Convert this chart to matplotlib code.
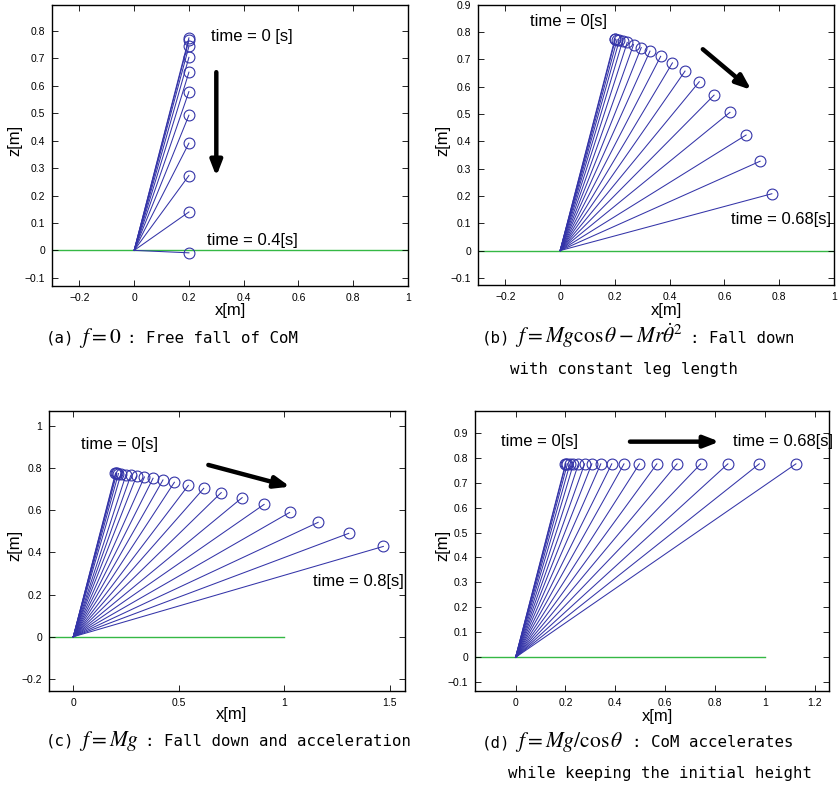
import matplotlib
matplotlib.use("Agg")
import matplotlib.pyplot as plt

plt.rcParams['mathtext.fontset'] = 'stix'

W, H = 838, 787

# ---------------- data ----------------
# (a) free fall
a_x = [0.2] * 11
a_z = [0.775, 0.767, 0.744, 0.704, 0.650, 0.579, 0.493, 0.391, 0.273, 0.140, -0.009]

# (b) constant leg length
b_x = [0.2, 0.202, 0.208, 0.216, 0.228, 0.245, 0.268, 0.296, 0.328, 0.367,
       0.41, 0.456, 0.508, 0.562, 0.62, 0.679, 0.73, 0.773]
b_z = [0.775, 0.774, 0.7725, 0.770, 0.767, 0.762, 0.754, 0.743, 0.730, 0.711,
       0.687, 0.657, 0.618, 0.569, 0.506, 0.423, 0.327, 0.208]

# (c) f = Mg
c_x = [0.2, 0.202, 0.206, 0.214, 0.226, 0.25, 0.273, 0.3, 0.337, 0.378, 0.425,
       0.479, 0.545, 0.618, 0.701, 0.8, 0.904, 1.025, 1.16, 1.305, 1.469]
c_z = [0.775, 0.775, 0.774, 0.773, 0.771, 0.768, 0.765, 0.762, 0.757, 0.751, 0.743,
       0.732, 0.717, 0.703, 0.683, 0.659, 0.627, 0.589, 0.542, 0.490, 0.428]

# (d) f = Mg / cos(theta)
d_x = [0.2, 0.202, 0.208, 0.218, 0.232, 0.252, 0.277, 0.306, 0.342, 0.386,
       0.435, 0.497, 0.567, 0.648, 0.743, 0.852, 0.978, 1.125]
d_z = [0.775] * 18

ground_x = [-1.0, 1.0]
ground_z = [0.0, 0.0]

# ---------------- styling ----------------
BLUE = '#3434a8'
GREEN = '#35b845'
TICKFONT = 'Liberation Sans'


def px_axes(fig, l, r, t, b):
    return fig.add_axes([l / W, 1 - b / H, (r - l) / W, (b - t) / H])


def draw_panel(ax, xs, zs, xlim, ylim, xticks, yticks, xtl, ytl):
    ax.plot(ground_x, ground_z, color=GREEN, lw=1.0, zorder=1)
    for x, z in zip(xs, zs):
        ax.plot([0, x], [0, z], color=BLUE, lw=0.75, zorder=2)
    ax.plot(xs, zs, linestyle='none', marker='o', markersize=7.8,
            markerfacecolor='none', markeredgecolor=BLUE, markeredgewidth=0.8, zorder=3)
    ax.set_xlim(*xlim)
    ax.set_ylim(*ylim)
    ax.set_xticks(xticks)
    ax.set_yticks(yticks)
    ax.set_xticklabels(xtl)
    ax.set_yticklabels(ytl)
    ax.tick_params(direction='in', length=4, width=0.6, top=True, right=True,
                   labelsize=7.5, pad=5)
    for lab in ax.get_xticklabels() + ax.get_yticklabels():
        lab.set_fontfamily(TICKFONT)
    for s in ax.spines.values():
        s.set_linewidth(1.0)


def arrow(ax, start, end):
    ax.annotate('', xy=end, xytext=start,
                arrowprops=dict(arrowstyle='-|>,head_length=0.9,head_width=0.35',
                                lw=3.2, color='black', shrinkA=0, shrinkB=0))


def ttext(ax, x, y, s):
    ax.text(x, y, s, fontsize=12, family=TICKFONT, va='center', ha='left')


def ftext(x, y, s, **kw):
    fig.text(x / W, 1 - y / H, s, **kw)


def lab(v):
    s = ('%g' % v)
    return s.replace('-', '\u2212')


MONO = dict(fontsize=11.3, family='DejaVu Sans Mono', ha='left', va='baseline')
MATH = dict(fontsize=15.5, ha='left', va='baseline')


def caption(y, pieces):
    # pieces: (x_px, text, is_math)
    for x, s, m in pieces:
        ftext(x, y, s, **(MATH if m else MONO))


fig = plt.figure(figsize=(W / 100, H / 100), dpi=100)

# (a)
axa = px_axes(fig, 52, 408, 5, 286)
xt = [-0.2, 0, 0.2, 0.4, 0.6, 0.8, 1]
yt = [-0.1, 0, 0.1, 0.2, 0.3, 0.4, 0.5, 0.6, 0.7, 0.8]
draw_panel(axa, a_x, a_z, (-0.3, 1.0), (-0.13, 0.895), xt, yt,
           [lab(v) for v in xt], [lab(v) for v in yt])
ttext(axa, 0.28, 0.78, 'time = 0 [s]')
ttext(axa, 0.265, 0.035, 'time = 0.4[s]')
arrow(axa, (0.30, 0.65), (0.30, 0.27))

# (b)
axb = px_axes(fig, 478, 834, 4.7, 285)
yt = [-0.1, 0, 0.1, 0.2, 0.3, 0.4, 0.5, 0.6, 0.7, 0.8, 0.9]
draw_panel(axb, b_x, b_z, (-0.3, 1.0), (-0.126, 0.9), xt, yt,
           [lab(v) for v in xt], [lab(v) for v in yt])
ttext(axb, -0.11, 0.838, 'time = 0[s]')
ttext(axb, 0.623, 0.112, 'time = 0.68[s]')
arrow(axb, (0.521, 0.737), (0.698, 0.588))

# (c)
axc = px_axes(fig, 49, 405.3, 410.7, 691)
xt = [0, 0.5, 1, 1.5]
yt = [-0.2, 0, 0.2, 0.4, 0.6, 0.8, 1]
draw_panel(axc, c_x, c_z, (-0.115, 1.573), (-0.257, 1.071), xt, yt,
           [lab(v) for v in xt], [lab(v) for v in yt])
ttext(axc, 0.036, 0.909, 'time = 0[s]')
ttext(axc, 1.135, 0.261, 'time = 0.8[s]')
arrow(axc, (0.640, 0.814), (1.027, 0.711))

# (d)
axd = px_axes(fig, 475, 829.3, 410.7, 691)
xt = [0, 0.2, 0.4, 0.6, 0.8, 1, 1.2]
yt = [-0.1, 0, 0.1, 0.2, 0.3, 0.4, 0.5, 0.6, 0.7, 0.8, 0.9]
draw_panel(axd, d_x, d_z, (-0.163, 1.259), (-0.135, 0.988), xt, yt,
           [lab(v) for v in xt], [lab(v) for v in yt])
ttext(axd, -0.059, 0.864, 'time = 0[s]')
ttext(axd, 0.874, 0.864, 'time = 0.68[s]')
arrow(axd, (0.459, 0.864), (0.818, 0.864))

# axis labels
LBL = dict(fontsize=12, family=TICKFONT, ha='center', va='center')
for (x, y) in [(230, 311), (666, 311), (231, 715), (657, 716)]:
    ftext(x, y, 'x[m]', **LBL)
for (x, y) in [(15, 140), (443, 140), (15, 545), (443, 545)]:
    ftext(x, y, 'z[m]', rotation=90, **LBL)

# captions
caption(343, [(46, '(a)', False), (79, r'$f=0$', True),
              (127, ': Free fall of CoM', False)])
caption(343, [(482, '(b)', False), (515, r'$f=Mg\cos\theta-Mr\dot{\theta}^{2}$', True),
              (690, ': Fall down', False)])
ftext(510, 374, 'with constant leg length', **MONO)
caption(746, [(46, '(c)', False), (79, r'$f=Mg$', True),
              (145, ': Fall down and acceleration', False)])
caption(747, [(482, '(d)', False), (515, r'$f=Mg/\cos\theta$', True),
              (632, ': CoM accelerates', False)])
ftext(508, 778, 'while keeping the initial height', **MONO)

fig.savefig('out.png', dpi=100)
